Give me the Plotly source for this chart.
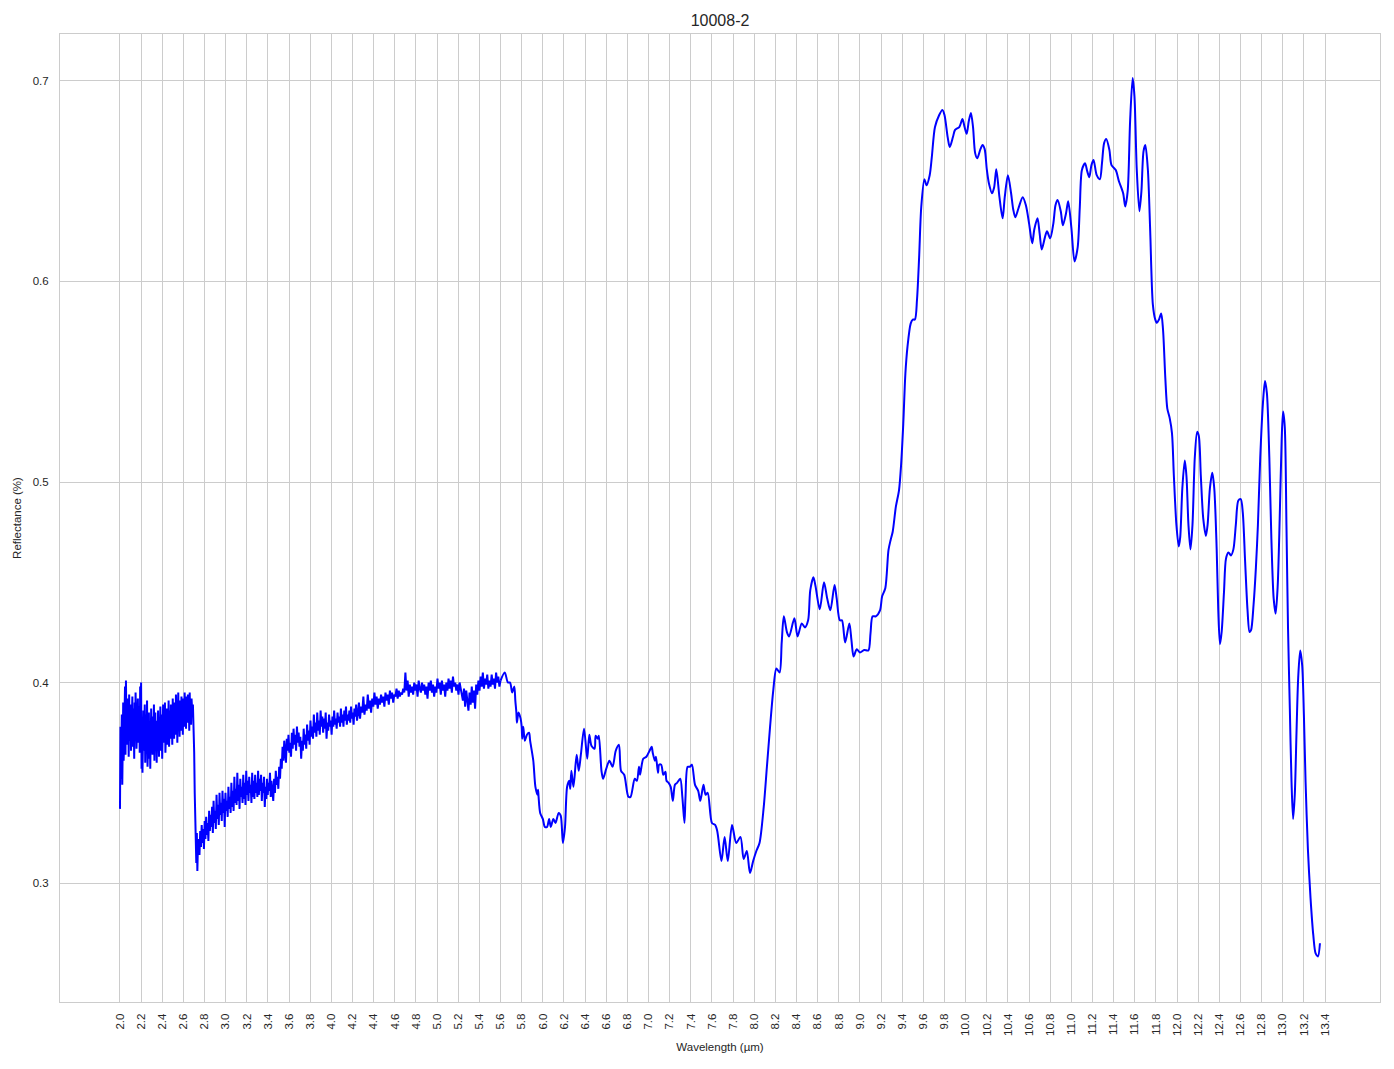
import numpy as np
import plotly.graph_objects as go

# ---------------- data ----------------
TITLE = "10008-2"
X_LABEL = "Wavelength (µm)"
Y_LABEL = "Reflectance (%)"

# noisy segment 1: 2.000 - 2.690 um (evenly sampled)
seg1_range = (2.000, 2.690)
seg1_y = [0.337, 0.378, 0.352, 0.366, 0.384, 0.349, 0.372, 0.390, 0.361, 0.383, 0.375, 0.398, 0.364, 0.401, 0.380, 0.369,
          0.392, 0.377, 0.386, 0.363, 0.394, 0.371, 0.380, 0.389, 0.366, 0.384, 0.374, 0.393, 0.368, 0.387, 0.379, 0.362,
          0.390, 0.372, 0.395, 0.381, 0.367, 0.385, 0.376, 0.392, 0.370, 0.383, 0.388, 0.365, 0.398, 0.375, 0.400, 0.357,
          0.381, 0.355, 0.372, 0.386, 0.366, 0.379, 0.389, 0.360, 0.375, 0.384, 0.368, 0.391, 0.358, 0.377, 0.369, 0.385,
          0.362, 0.380, 0.357, 0.374, 0.387, 0.370, 0.378, 0.364, 0.383, 0.372, 0.389, 0.361, 0.376, 0.385, 0.367, 0.381,
          0.360, 0.378, 0.369, 0.386, 0.374, 0.363, 0.382, 0.371, 0.388, 0.366, 0.379, 0.384, 0.362, 0.376, 0.389, 0.370,
          0.383, 0.374, 0.390, 0.365, 0.381, 0.377, 0.387, 0.369, 0.384, 0.373, 0.391, 0.368, 0.380, 0.386, 0.372, 0.389,
          0.376, 0.384, 0.369, 0.392, 0.378, 0.386, 0.372, 0.390, 0.381, 0.374, 0.394, 0.377, 0.388, 0.370, 0.385, 0.395,
          0.379, 0.387, 0.373, 0.391, 0.383, 0.376, 0.393, 0.380, 0.388, 0.374, 0.392, 0.384, 0.378, 0.395, 0.381, 0.389,
          0.377, 0.393, 0.385, 0.380, 0.394, 0.382, 0.390, 0.376, 0.395, 0.384, 0.388, 0.379, 0.392, 0.386, 0.383, 0.389]

# sharp drop near 2.7 um
drop_x = [2.697, 2.702, 2.707, 2.712, 2.717, 2.722, 2.727, 2.732, 2.737, 2.742]
drop_y = [0.378, 0.365, 0.345, 0.328, 0.316, 0.310, 0.325, 0.306, 0.318, 0.322]

# noisy segment 2: 2.745 - 3.440 um
seg2_range = (2.745, 3.440)
seg2_y = [0.322, 0.314, 0.326, 0.318, 0.329, 0.320, 0.327, 0.317, 0.331, 0.322,
          0.333, 0.324, 0.330, 0.321, 0.336, 0.326, 0.334, 0.328, 0.338, 0.325,
          0.341, 0.330, 0.336, 0.327, 0.344, 0.332, 0.339, 0.329, 0.345, 0.334,
          0.340, 0.331, 0.346, 0.335, 0.342, 0.328, 0.345, 0.336, 0.341, 0.333,
          0.348, 0.337, 0.343, 0.335, 0.350, 0.338, 0.346, 0.336, 0.353, 0.340,
          0.347, 0.339, 0.355, 0.341, 0.349, 0.337, 0.352, 0.343, 0.348, 0.340,
          0.354, 0.342, 0.350, 0.339, 0.356, 0.344, 0.351, 0.341, 0.353, 0.345,
          0.349, 0.340, 0.355, 0.343, 0.351, 0.342, 0.354, 0.345, 0.350, 0.343,
          0.356, 0.344, 0.352, 0.346, 0.354, 0.341, 0.350, 0.345, 0.353, 0.338,
          0.348, 0.342, 0.352, 0.344, 0.350, 0.346, 0.355, 0.343, 0.351, 0.347]

# noisy segment 3: 3.450 - 4.242 um
seg3_range = (3.450, 4.242)
seg3_y = [0.341, 0.352, 0.345, 0.356, 0.349, 0.353, 0.347, 0.358, 0.352, 0.362,
          0.357, 0.368, 0.361, 0.371, 0.364, 0.360, 0.372, 0.366, 0.374, 0.365,
          0.370, 0.363, 0.375, 0.367, 0.377, 0.369, 0.374, 0.366, 0.378, 0.370,
          0.375, 0.368, 0.373, 0.362, 0.371, 0.366, 0.377, 0.369, 0.374, 0.367,
          0.379, 0.371, 0.376, 0.369, 0.381, 0.373, 0.378, 0.372, 0.384, 0.375,
          0.380, 0.373, 0.385, 0.376, 0.381, 0.374, 0.386, 0.378, 0.383, 0.375,
          0.382, 0.377, 0.385, 0.372, 0.380, 0.376, 0.384, 0.378, 0.381, 0.374,
          0.383, 0.378, 0.386, 0.379, 0.382, 0.377, 0.385, 0.380, 0.383, 0.378,
          0.387, 0.380, 0.384, 0.378, 0.386, 0.381, 0.388, 0.379, 0.384, 0.381,
          0.386, 0.380, 0.388, 0.382, 0.385, 0.379, 0.387, 0.383, 0.389, 0.381]

# noisy segment 4: 4.250 - 5.600 um
seg4_range = (4.250, 5.600)
seg4_y = [0.384, 0.390, 0.382, 0.388, 0.385, 0.393, 0.384, 0.389, 0.386, 0.394,
          0.387, 0.391, 0.385, 0.392, 0.388, 0.395, 0.389, 0.393, 0.387, 0.392,
          0.389, 0.394, 0.390, 0.393, 0.388, 0.395, 0.391, 0.394, 0.389, 0.396,
          0.392, 0.395, 0.390, 0.394, 0.393, 0.397, 0.392, 0.396, 0.393, 0.395,
          0.394, 0.397, 0.395, 0.405, 0.396, 0.401, 0.393, 0.399, 0.395, 0.398,
          0.394, 0.400, 0.396, 0.399, 0.393, 0.401, 0.397, 0.395, 0.400, 0.396,
          0.399, 0.394, 0.398, 0.392, 0.400, 0.396, 0.401, 0.395, 0.399, 0.393,
          0.398, 0.395, 0.402, 0.397, 0.400, 0.394, 0.401, 0.396, 0.399, 0.393,
          0.400, 0.396, 0.402, 0.397, 0.401, 0.395, 0.403, 0.398, 0.400, 0.396,
          0.399, 0.394, 0.400, 0.397, 0.395, 0.391, 0.397, 0.388, 0.396, 0.392,
          0.386, 0.395, 0.389, 0.398, 0.390, 0.396, 0.387, 0.399, 0.394, 0.401,
          0.396, 0.403, 0.398, 0.405, 0.397, 0.402, 0.399, 0.404, 0.397, 0.401,
          0.398, 0.404, 0.399, 0.402, 0.397, 0.405, 0.400, 0.403, 0.398, 0.401]

# smooth part: 5.60 - 13.35 um
smooth_x = [5.60, 5.64, 5.67, 5.69, 5.71, 5.73, 5.74, 5.75, 5.755, 5.77, 5.79, 5.80, 5.805, 5.815,
            5.83, 5.85, 5.87, 5.88, 5.91, 5.93, 5.95, 5.955, 5.96, 5.975, 6.00, 6.02, 6.04, 6.06,
            6.075, 6.10, 6.12, 6.15, 6.17, 6.19, 6.21, 6.23, 6.25, 6.26, 6.27, 6.29, 6.32, 6.34,
            6.36, 6.39, 6.42, 6.44, 6.46, 6.49, 6.50, 6.52, 6.53, 6.555, 6.57, 6.60, 6.63, 6.66,
            6.69, 6.72, 6.74, 6.77, 6.81, 6.83, 6.87, 6.89, 6.91, 6.92, 6.95, 6.98, 7.01, 7.03,
            7.04, 7.06, 7.07, 7.09, 7.10, 7.12, 7.14, 7.16, 7.17, 7.19, 7.21, 7.23, 7.25, 7.27,
            7.30, 7.32, 7.34, 7.35, 7.37, 7.39, 7.41, 7.44, 7.47, 7.49, 7.52, 7.54, 7.56, 7.60,
            7.63, 7.65, 7.69, 7.72, 7.75, 7.79, 7.83, 7.87, 7.90, 7.93, 7.96, 7.99, 8.02, 8.05,
            8.09, 8.12, 8.15, 8.18, 8.21, 8.24, 8.26, 8.28, 8.31, 8.33, 8.38, 8.41, 8.45, 8.48,
            8.51, 8.53, 8.56, 8.58, 8.62, 8.66, 8.69, 8.72, 8.76, 8.78, 8.81, 8.83, 8.86, 8.90,
            8.92, 8.94, 8.97, 9.00, 9.04, 9.08, 9.10, 9.12, 9.15, 9.19, 9.21, 9.24, 9.27, 9.29,
            9.31, 9.34, 9.37, 9.39, 9.41, 9.43, 9.45, 9.48, 9.50, 9.52, 9.54, 9.56, 9.58, 9.61,
            9.63, 9.66, 9.68, 9.71, 9.75, 9.78, 9.80, 9.83, 9.85, 9.88, 9.90, 9.94, 9.97, 9.99,
            10.01, 10.03, 10.05, 10.07, 10.09, 10.11, 10.14, 10.16, 10.18, 10.20, 10.22, 10.25,
            10.27, 10.29, 10.32, 10.35, 10.37, 10.40, 10.43, 10.45, 10.47, 10.50, 10.54, 10.57,
            10.60, 10.63, 10.65, 10.68, 10.70, 10.72, 10.75, 10.77, 10.80, 10.83, 10.85, 10.87,
            10.90, 10.92, 10.95, 10.97, 11.00, 11.03, 11.06, 11.08, 11.10, 11.13, 11.15, 11.17,
            11.19, 11.21, 11.24, 11.27, 11.29, 11.31, 11.33, 11.36, 11.38, 11.42, 11.45, 11.49,
            11.51, 11.533, 11.556, 11.58, 11.597, 11.619, 11.644, 11.663, 11.683, 11.70, 11.724,
            11.746, 11.771, 11.794, 11.81, 11.829, 11.85, 11.867, 11.889, 11.908, 11.93, 11.952,
            11.97, 11.994, 12.016, 12.03, 12.05, 12.073, 12.089, 12.108, 12.127, 12.146, 12.168,
            12.19, 12.206, 12.225, 12.248, 12.273, 12.289, 12.311, 12.333, 12.352, 12.375, 12.39,
            12.406, 12.422, 12.444, 12.463, 12.486, 12.51, 12.533, 12.556, 12.58, 12.603, 12.622,
            12.644, 12.667, 12.686, 12.70, 12.724, 12.746, 12.765, 12.787, 12.813, 12.832, 12.85,
            12.873, 12.892, 12.914, 12.933, 12.952, 12.971, 12.99, 13.003, 13.019, 13.035, 13.05,
            13.067, 13.083, 13.098, 13.114, 13.13, 13.146, 13.165, 13.184, 13.20, 13.216, 13.238,
            13.263, 13.289, 13.311, 13.333, 13.352]
smooth_y = [0.401, 0.405, 0.400, 0.400, 0.395, 0.398, 0.391, 0.385, 0.380, 0.385, 0.382, 0.378, 0.372, 0.378,
            0.371, 0.374, 0.375, 0.371, 0.361, 0.348, 0.344, 0.3465, 0.343, 0.335, 0.332, 0.328, 0.328, 0.332,
            0.328, 0.332, 0.330, 0.335, 0.3335, 0.320, 0.328, 0.348, 0.351, 0.347, 0.356, 0.348, 0.364, 0.356,
            0.364, 0.377, 0.362, 0.374, 0.3685, 0.367, 0.3735, 0.372, 0.3735, 0.356, 0.352, 0.357, 0.361, 0.358,
            0.366, 0.369, 0.356, 0.354, 0.343, 0.343, 0.352, 0.351, 0.358, 0.354, 0.362, 0.363, 0.366, 0.368,
            0.365, 0.361, 0.363, 0.355, 0.359, 0.359, 0.354, 0.3555, 0.351, 0.350, 0.348, 0.341, 0.349, 0.350,
            0.352, 0.343, 0.330, 0.343, 0.358, 0.358, 0.359, 0.349, 0.346, 0.341, 0.349, 0.344, 0.345, 0.330,
            0.329, 0.326, 0.311, 0.323, 0.311, 0.329, 0.320, 0.323, 0.312, 0.316, 0.305, 0.311, 0.316, 0.320,
            0.338, 0.358, 0.378, 0.396, 0.407, 0.405, 0.420, 0.433, 0.425, 0.423, 0.432, 0.423, 0.4295, 0.4275,
            0.431, 0.446, 0.4525, 0.448, 0.4365, 0.450, 0.442, 0.436, 0.4486, 0.442, 0.431, 0.431, 0.420, 0.4295,
            0.421, 0.413, 0.4166, 0.415, 0.4162, 0.416, 0.4245, 0.433, 0.433, 0.436, 0.443, 0.447, 0.466, 0.471,
            0.4752, 0.4877, 0.496, 0.509, 0.529, 0.554, 0.5675, 0.579, 0.581, 0.581, 0.591, 0.612, 0.637, 0.651,
            0.648, 0.653, 0.662, 0.677, 0.683, 0.6855, 0.683, 0.672, 0.667, 0.672, 0.6756, 0.677, 0.681, 0.677,
            0.6736, 0.680, 0.684, 0.677, 0.664, 0.6614, 0.666, 0.668, 0.666, 0.656, 0.649, 0.644,
            0.647, 0.656, 0.642, 0.6315, 0.642, 0.653, 0.644, 0.636, 0.632, 0.6365, 0.642, 0.638,
            0.629, 0.619, 0.626, 0.6315, 0.624, 0.616, 0.622, 0.625, 0.6215, 0.629, 0.638, 0.6406,
            0.635, 0.628, 0.634, 0.640, 0.627, 0.610, 0.617, 0.637, 0.6556, 0.659, 0.655, 0.652,
            0.658, 0.6606, 0.653, 0.651, 0.659, 0.669, 0.671, 0.6656, 0.658, 0.6556, 0.650, 0.644,
            0.6374, 0.645, 0.680, 0.7015, 0.6924, 0.6557, 0.635, 0.645, 0.665, 0.668, 0.6557,
            0.6252, 0.5886, 0.581, 0.5794, 0.581, 0.584, 0.5763, 0.5519, 0.5366, 0.532, 0.5244,
            0.503, 0.4786, 0.4679, 0.4725, 0.4969, 0.5107, 0.503, 0.4786, 0.4664, 0.4786, 0.5122,
            0.525, 0.5229, 0.503, 0.4817, 0.4731, 0.4786, 0.4969, 0.5046, 0.4969, 0.4664, 0.4359,
            0.4191, 0.4252, 0.445, 0.4618, 0.4649, 0.4634, 0.4664, 0.4786, 0.4908, 0.4915, 0.4847,
            0.4603, 0.4359, 0.4252, 0.4261, 0.4389, 0.4573, 0.4786, 0.5122, 0.5397, 0.5504, 0.5443,
            0.5122, 0.4725, 0.442, 0.4344, 0.4481, 0.4817, 0.5214, 0.5351, 0.5275, 0.4786, 0.4267,
            0.387, 0.3504, 0.332, 0.3443, 0.3748, 0.4023, 0.416, 0.4084, 0.384, 0.3504, 0.3168,
            0.2924, 0.274, 0.2649, 0.2634, 0.270]

x_tick_labels = ["2.0", "2.2", "2.4", "2.6", "2.8", "3.0", "3.2", "3.4", "3.6", "3.8",
                 "4.0", "4.2", "4.4", "4.6", "4.8", "5.0", "5.2", "5.4", "5.6", "5.8",
                 "6.0", "6.2", "6.4", "6.6", "6.8", "7.0", "7.2", "7.4", "7.6", "7.8",
                 "8.0", "8.2", "8.4", "8.6", "8.8", "9.0", "9.2", "9.4", "9.6", "9.8",
                 "10.0", "10.2", "10.4", "10.6", "10.8", "11.0", "11.2", "11.4", "11.6", "11.8",
                 "12.0", "12.2", "12.4", "12.6", "12.8", "13.0", "13.2", "13.4"]
y_tick_labels = ["0.3", "0.4", "0.5", "0.6", "0.7"]

# ---------------- build series ----------------
def seg(rng, vals):
    return list(np.linspace(rng[0], rng[1], len(vals))), list(vals)

noisy_x, noisy_y = [], []
for xs, ys in [seg(seg1_range, seg1_y), (drop_x, drop_y), seg(seg2_range, seg2_y),
               seg(seg3_range, seg3_y), seg(seg4_range, seg4_y)]:
    noisy_x += list(xs)
    noisy_y += list(ys)

FONT = "Liberation Sans, Arial, Helvetica, sans-serif"
TXT = "#262626"
GRID = "#cccccc"
LINE = "#0000ff"

fig = go.Figure()
fig.add_trace(go.Scatter(x=noisy_x, y=noisy_y, mode="lines",
                         line=dict(color=LINE, width=2), showlegend=False))
fig.add_trace(go.Scatter(x=smooth_x, y=smooth_y, mode="lines",
                         line=dict(color=LINE, width=2, shape="spline", smoothing=0.8),
                         showlegend=False))

xt_vals = [float(t) for t in x_tick_labels]
yt_vals = [float(t) for t in y_tick_labels]

fig.update_layout(
    width=1394, height=1069,
    margin=dict(l=60, r=14, t=34, b=67, autoexpand=False),
    paper_bgcolor="white", plot_bgcolor="white",
    font=dict(family=FONT, color=TXT, size=11.5),
    title=dict(text=TITLE, x=0.5, xref="paper", xanchor="center",
               y=1 - 20 / 1069, yref="container", yanchor="middle",
               font=dict(size=16, color=TXT, family=FONT)),
    xaxis=dict(range=[1.4325, 13.92], tickmode="array", tickvals=xt_vals,
               ticktext=x_tick_labels, tickangle=-90, showgrid=True, gridcolor=GRID,
               gridwidth=1, zeroline=False, showline=True, linecolor=GRID, linewidth=1,
               mirror=True, ticks="", ticklabelstandoff=6,
               tickfont=dict(size=11.5, color=TXT, family=FONT),
               title=dict(text=X_LABEL, standoff=7, font=dict(size=11.5, color=TXT, family=FONT))),
    yaxis=dict(range=[0.2407, 0.7234], tickmode="array", tickvals=yt_vals,
               ticktext=y_tick_labels, showgrid=True, gridcolor=GRID, gridwidth=1,
               zeroline=False, showline=True, linecolor=GRID, linewidth=1, mirror=True,
               ticks="", ticklabelstandoff=8,
               tickfont=dict(size=11.5, color=TXT, family=FONT),
               title=dict(text=Y_LABEL, standoff=8, font=dict(size=11.5, color=TXT, family=FONT))),
)

fig.write_html("out.html", config={"displayModeBar": False},
               post_script="document.body.style.margin='0';")
